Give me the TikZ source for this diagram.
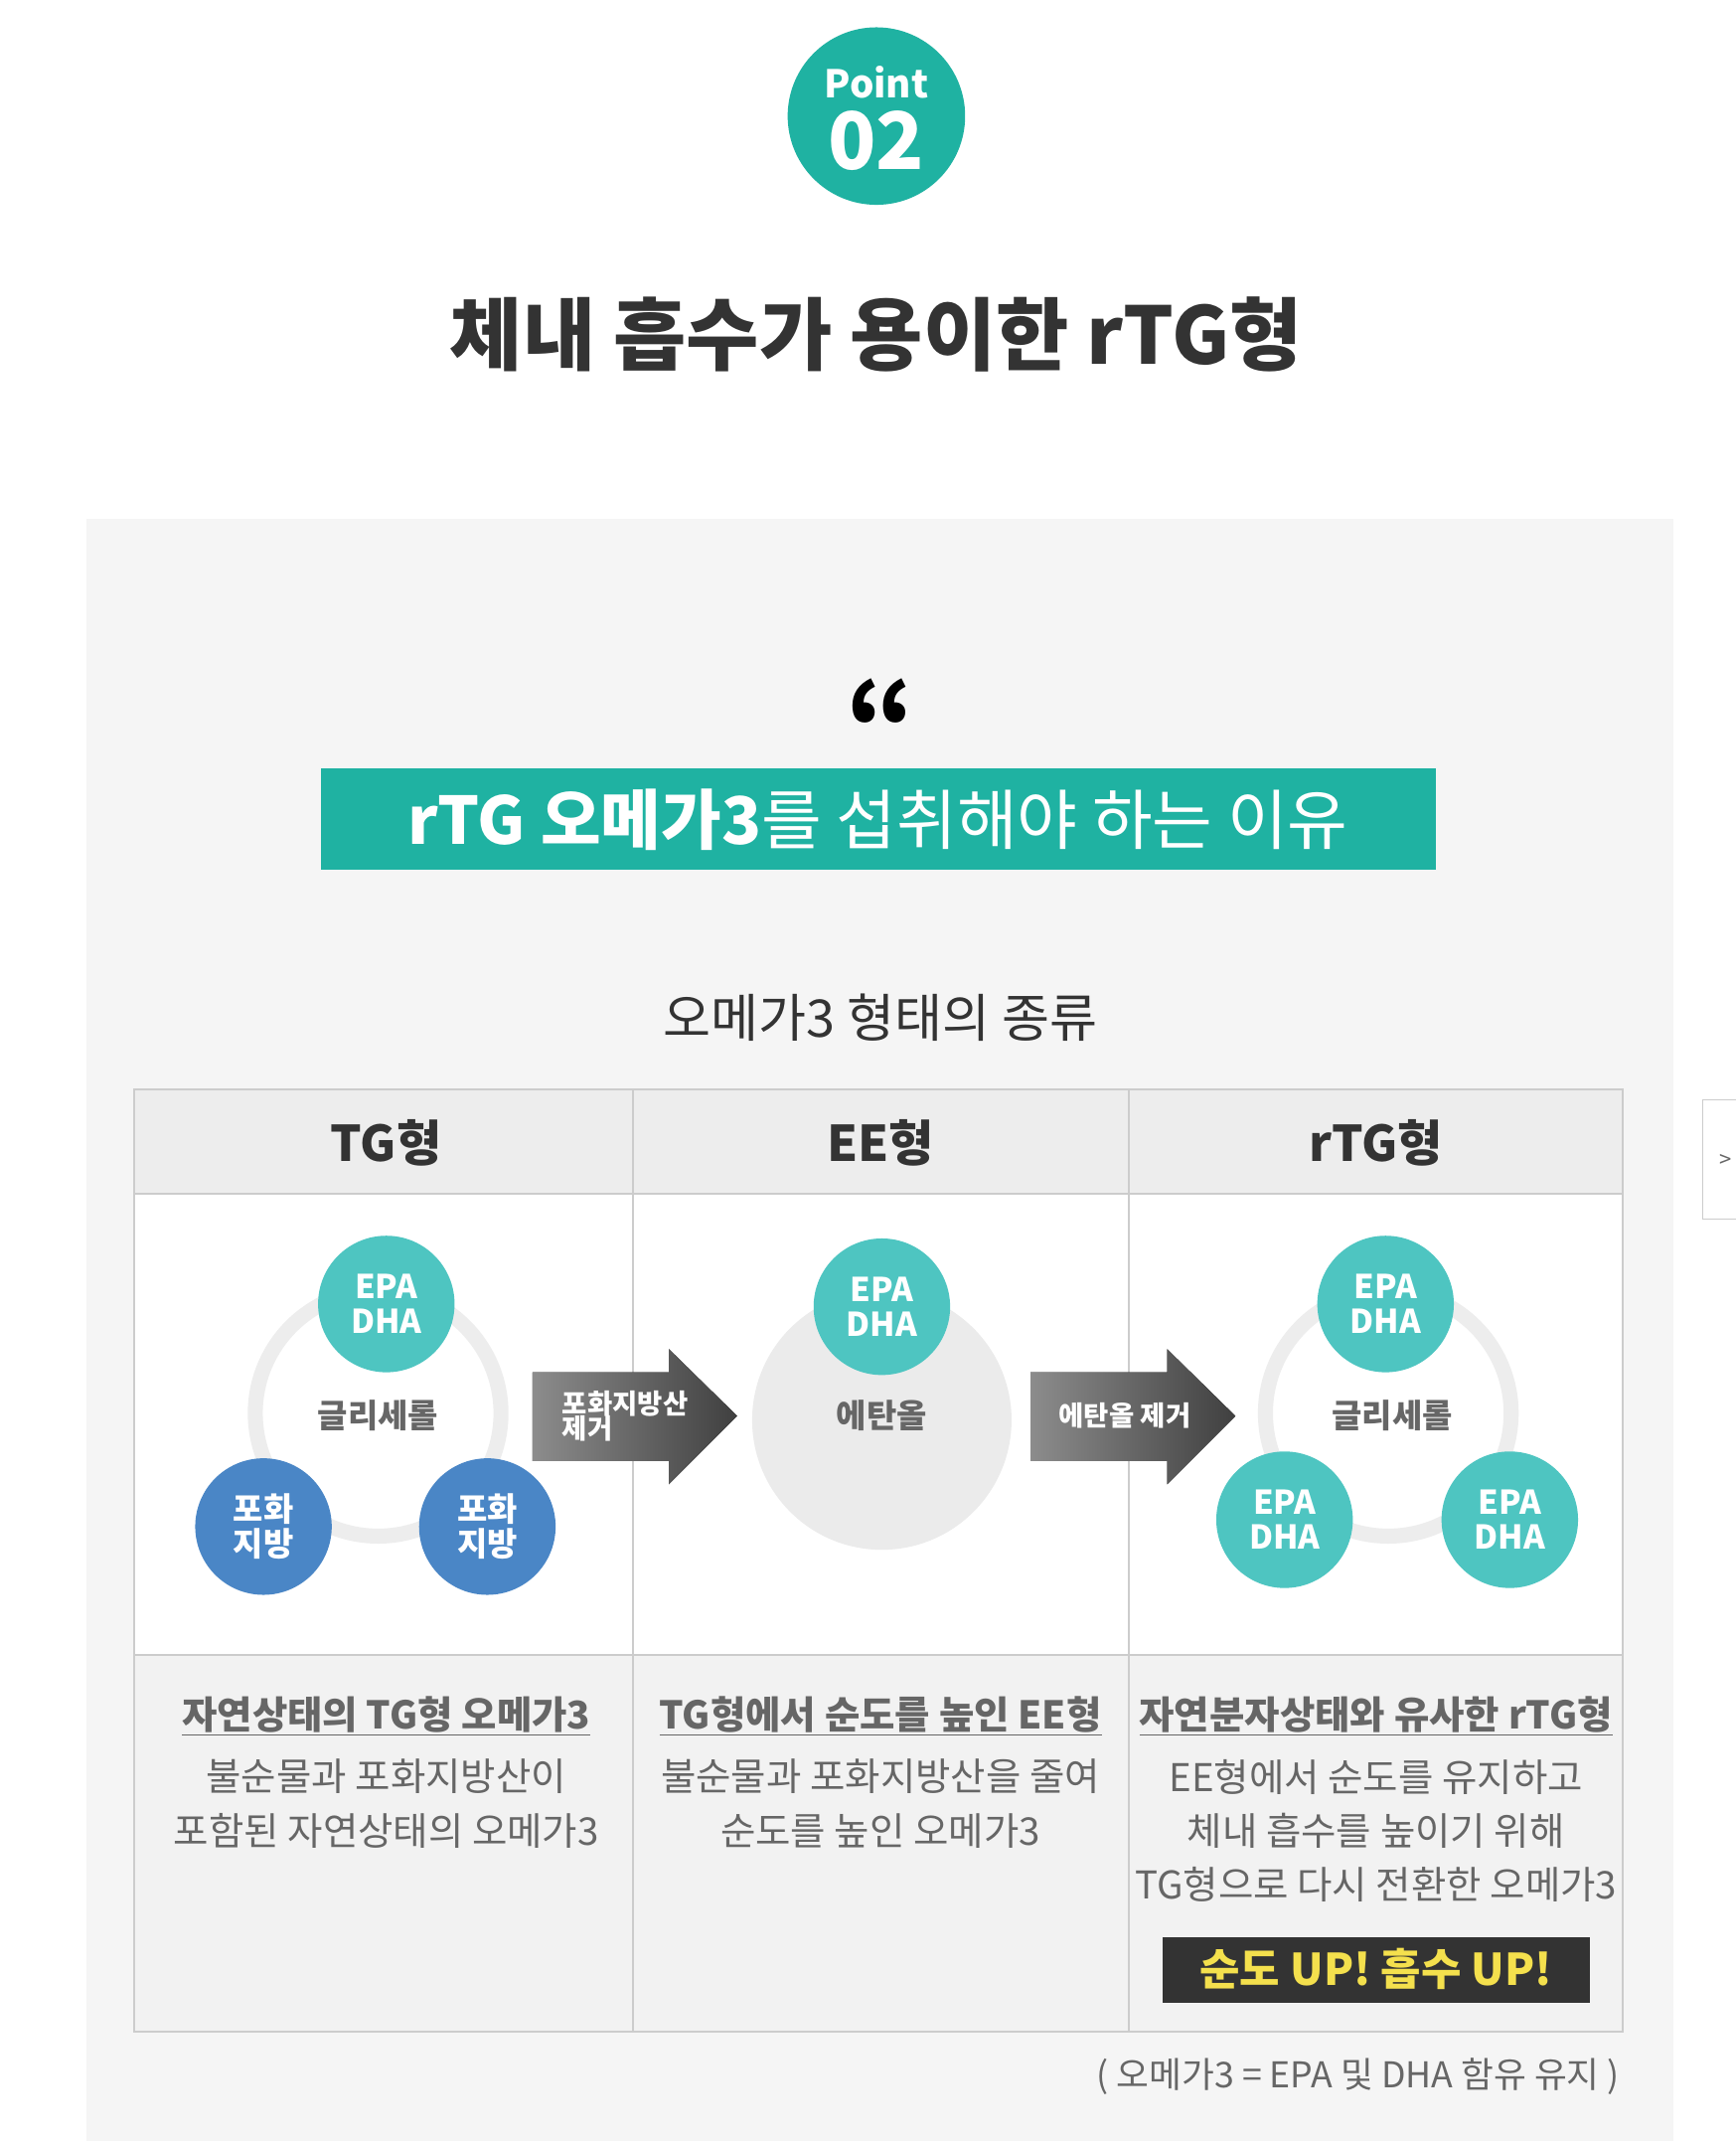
\documentclass[tikz,border=0pt]{standalone}
\usepackage{fontspec}
\setmainfont{Noto Sans CJK KR}
\definecolor{teal1}{HTML}{1FB2A2}
\definecolor{tealc}{HTML}{4EC5C1}
\definecolor{bluec}{HTML}{4A86C6}
\definecolor{txt}{HTML}{333333}
\definecolor{gtxt}{HTML}{666666}
\definecolor{bord}{HTML}{CCCCCC}
\definecolor{ylw}{HTML}{F4E04D}
\newcommand{\fs}[1]{\fontsize{#1}{#1}\selectfont\baselineskip=1.3\baselineskip}
\tikzset{
  x=1pt,y=-1pt,
  tc/.style={circle,fill=tealc,minimum size=100pt,inner sep=0pt,text=white,font=\fs{24}\bfseries,align=center},
  bc/.style={circle,fill=bluec,minimum size=100pt,inner sep=0pt,text=white,font=\fs{24}\bfseries,align=center},
  ring/.style={draw=black!7,line width=11pt},
  hdr/.style={font=\fs{36}\bfseries,text=txt},
  lab/.style={font=\fs{24}\bfseries,text=gtxt},
  head/.style={font=\fs{28}\bfseries,text=gtxt},
  desc/.style={font=\fs{28},text=gtxt,align=center},
  arrfill/.style={left color=black!45,right color=black!75}
}
\begin{document}
\begin{tikzpicture}
\useasboundingbox (0,0) rectangle (1271,1568);
\fill[white] (0,0) rectangle (1271,1568);
\node[circle,fill=teal1,minimum size=130pt] (pc) at (642,85) {};
\node[text=white,font=\fs{28}\bfseries] (pt) at (642,60) {Point};
\node[text=white,font=\fs{58}\bfseries] (p2) at (642,103) {02};
\node[font=\fs{58}\bfseries,text=txt] (title) at (642,245) {체내 흡수가 용이한 rTG형};
\fill[black!4] (63,380) rectangle (1226,1568);
\node[font=\fs{80}\bfseries] (q) at (645,528) {“};
\fill[teal1] (235,563) rectangle (1052,637);
\node[text=white,font=\fs{48}] (ban) at (643,600) {\bfseries rTG 오메가3\mdseries 를 섭취해야 하는 이유};
\node[font=\fs{38},text=txt] (sub) at (645,745) {오메가3 형태의 종류};
% table
\fill[black!7] (98,798) rectangle (1189,874);
\fill[white] (98,874) rectangle (1189,1212);
\fill[black!5] (98,1212) rectangle (1189,1488);
\draw[bord,line width=1.5pt] (98,798) rectangle (1189,1488);
\draw[bord,line width=1.5pt] (98,874) -- (1189,874) (98,1212) -- (1189,1212) (464,798) -- (464,1488) (827,798) -- (827,1488);
\node[hdr] (h1) at (283,837) {TG형};
\node[hdr] (h2) at (645,837) {EE형};
\node[hdr] (h3) at (1008,837) {rTG형};
% TG
\draw[ring] (277,1035) circle (90);
\node[lab] (g1) at (277,1037) {글리세롤};
\node[tc] (t1) at (283,955) {EPA\\[-6pt]DHA};
\node[bc] (b1) at (193,1118) {포화\\[-6pt]지방};
\node[bc] (b2) at (357,1118) {포화\\[-6pt]지방};
\fill[arrfill] (390,1005) -- (490,1005) -- (490,988) -- (540,1037) -- (490,1087) -- (490,1070) -- (390,1070) -- cycle;
\node[text=white,font=\fs{20}\bfseries,align=left] (a1t) at (458,1037) {포화지방산\\[-8pt]제거};
% EE
\fill[black!8] (646,1040) circle (95);
\node[lab] (g2) at (646,1037) {에탄올};
\node[tc] (t2) at (646,957) {EPA\\[-6pt]DHA};
\fill[arrfill] (755,1005) -- (855,1005) -- (855,988) -- (905,1037) -- (855,1087) -- (855,1070) -- (755,1070) -- cycle;
\node[text=white,font=\fs{20}\bfseries] (a2t) at (824,1037) {에탄올 제거};
% rTG
\draw[ring] (1017,1035) circle (90);
\node[lab] (g3) at (1020,1037) {글리세롤};
\node[tc] (t3) at (1015,955) {EPA\\[-6pt]DHA};
\node[tc] (t4) at (941,1113) {EPA\\[-6pt]DHA};
\node[tc] (t5) at (1106,1113) {EPA\\[-6pt]DHA};
% bottom
\node[head] (d1h) at (283,1257) {\underline{자연상태의 TG형 오메가3}};
\node[head] (d2h) at (645,1257) {\underline{TG형에서 순도를 높인 EE형}};
\node[head] (d3h) at (1008,1257) {\underline{자연분자상태와 유사한 rTG형}};
\node[desc,anchor=north] (d1) at (283,1285) {불순물과 포화지방산이\\[3pt]포함된 자연상태의 오메가3};
\node[desc,anchor=north] (d2) at (645,1285) {불순물과 포화지방산을 줄여\\[3pt]순도를 높인 오메가3};
\node[desc,anchor=north] (d3) at (1008,1285) {EE형에서 순도를 유지하고\\[3pt]체내 흡수를 높이기 위해\\[3pt]TG형으로 다시 전환한 오메가3};
\fill[black!80] (852,1419) rectangle (1165,1467);
\node[text=ylw,font=\fs{32}\bfseries] (up) at (1008,1442) {순도 UP! 흡수 UP!};
\node[anchor=east,font=\fs{26},text=gtxt] (fn) at (1190,1521) {( 오메가3 = EPA 및 DHA 함유 유지 )};
% side tab
\draw[bord,fill=white] (1290,805) -- (1247,805) -- (1247,893) -- (1290,893);
\node[font=\fs{16},text=gtxt,inner sep=0pt] (sa) at (1264,850) {>};
\end{tikzpicture}
\end{document}
